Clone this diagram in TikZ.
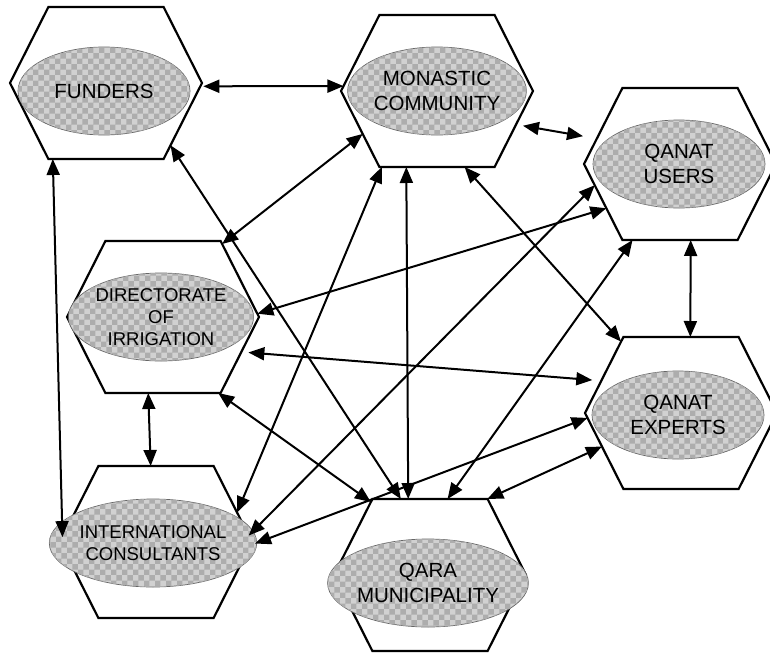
\documentclass[tikz,border=0pt]{standalone}
\usepackage{fontspec}
\setmainfont{Liberation Sans}
\usetikzlibrary{shapes.geometric,patterns,arrows.meta}
\makeatletter
\pgfdeclareshape{hexa}{%
  \savedanchor\northeast{%
    \pgfmathsetlength\pgf@xa{\pgfkeysvalueof{/pgf/minimum width}}%
    \pgf@x=.5\pgf@xa
    \pgfmathsetlength\pgf@ya{\pgfkeysvalueof{/pgf/minimum height}}%
    \pgf@y=.5\pgf@ya
  }%
  \anchor{center}{\pgfpointorigin}%
  \anchor{north}{\northeast\pgf@x=0pt}%
  \anchor{south}{\northeast\pgf@x=0pt\pgf@y=-\pgf@y}%
  \anchor{east}{\northeast\pgf@y=0pt}%
  \anchor{west}{\northeast\pgf@x=-\pgf@x\pgf@y=0pt}%
  \anchorborder{%
    \edef\hx@px{\the\pgf@x}\edef\hx@py{\the\pgf@y}%
    \pgf@process{\pgfpointnormalised{\pgfqpoint{\hx@px}{\hx@py}}}%
    \edef\hx@dx{\the\pgf@x}\edef\hx@dy{\the\pgf@y}%
    \northeast
    \edef\hx@a{\the\pgf@x}\edef\hx@h{\the\pgf@y}%
    \pgfmathsetmacro\hx@ax{abs(\hx@dx)}%
    \pgfmathsetmacro\hx@ay{abs(\hx@dy)}%
    \pgfmathsetmacro\hx@b{0.6*\hx@a}%
    \pgfmathparse{(\hx@ay*\hx@b>\hx@ax*\hx@h)?1:0}%
    \ifdim\pgfmathresult pt>0.5pt
      \pgfmathsetmacro\hx@t{\hx@h/\hx@ay}%
    \else
      \pgfmathsetmacro\hx@t{\hx@a/(\hx@ax+(\hx@a-\hx@b)*\hx@ay/\hx@h)}%
    \fi
    \pgf@x=\hx@dx\relax \pgf@x=\hx@t\pgf@x
    \pgf@y=\hx@dy\relax \pgf@y=\hx@t\pgf@y
  }%
  \backgroundpath{%
    \northeast
    \edef\hx@A{\the\pgf@x}\edef\hx@H{\the\pgf@y}%
    \pgf@xb=.6\pgf@x \edef\hx@B{\the\pgf@xb}%
    \pgfpathmoveto{\pgfqpoint{-\hx@B}{\hx@H}}%
    \pgfpathlineto{\pgfqpoint{\hx@B}{\hx@H}}%
    \pgfpathlineto{\pgfqpoint{\hx@A}{0pt}}%
    \pgfpathlineto{\pgfqpoint{\hx@B}{-\hx@H}}%
    \pgfpathlineto{\pgfqpoint{-\hx@B}{-\hx@H}}%
    \pgfpathlineto{\pgfqpoint{-\hx@A}{0pt}}%
    \pgfpathclose
  }%
}
\makeatother
\tikzset{
  hexbox/.style={shape=hexa, draw=black, line width=2.2pt, fill=white,
    minimum width=192pt, minimum height=152pt, inner sep=0pt, line join=miter},
  lens/.style={shape=ellipse, draw=black!60, line width=0.7pt, fill=black!18,
    minimum width=172pt, minimum height=88pt, inner sep=0pt, align=center,
    text=black, font=\fontsize{20.5}{25}\selectfont,
    postaction={pattern=checkerboard, pattern color=black!32}},
  smalltext/.style={font=\fontsize{18.5}{22}\selectfont},
  link/.style={{Triangle[length=16pt,width=13pt]}-{Triangle[length=16pt,width=13pt]},
    line width=2pt},
}
\begin{document}
\begin{tikzpicture}[x=1pt,y=-1pt]
\useasboundingbox (0,0) rectangle (770,653);
% hexagons and labels
\node[hexbox] (fund) at (106,83) {};
\node[lens] (fundL) at (104,91) {FUNDERS};
\node[hexbox] (mona) at (437,91) {};
\node[lens] (monaL) at (437,91) {MONASTIC\\COMMUNITY};
\node[hexbox] (user) at (680,164) {};
\node[lens] (userL) at (679,164) {QANAT\\USERS};
\node[hexbox] (dir) at (163,317) {};
\node[lens,smalltext] (dirL) at (161,317) {DIRECTORATE\\OF\\IRRIGATION};
\node[hexbox] (exp) at (681,413) {};
\node[lens] (expL) at (678,415) {QANAT\\EXPERTS};
\node[hexbox] (intl) at (156,542) {};
\node[lens,smalltext] (intlL) at (153,543) {INTERNATIONAL\\CONSULTANTS};
\node[hexbox] (qara) at (430,575) {};
\node[lens] (qaraL) at (428,583) {QARA\\MUNICIPALITY};
% connectors
\draw[link, shorten <=3pt] (fund.-2.4) -- (mona.177.6);
\draw[link] (fund.235) -- (intl.177);
\draw[link] (fund.-44) -- (qara.111.7);
\draw[link] (mona.210.4) -- (dir.51.6);
\draw[link] (mona.234.2) -- (intl.20.1);
\draw[link] (mona.248.5) -- (qara.106.8);
\draw[link, shorten <=7pt, shorten >=14pt] (mona.-23.5) -- (user.163.4);
\draw[link] (mona.-70.3) -- (exp.130.2);
\draw[link] (user.211.1) -- (dir.2.9);
\draw[link] (user.194.6) -- (intl.4.4);
\draw[link] (user.238.7) -- (qara.77.3);
\draw[link] (user.-82.5) -- (exp.83.2);
\draw[link, shorten <=7pt, shorten >=9pt] (dir.-24.1) -- (exp.158.5);
\draw[link] (dir.259.4) -- (intl.94.5);
\draw[link] (dir.-54.2) -- (qara.129.1);
\draw[link, shorten <=5pt] (intl.-2.8) -- (exp.183.1);
\draw[link] (exp.203.3) -- (qara.53.4);
\end{tikzpicture}
\end{document}
